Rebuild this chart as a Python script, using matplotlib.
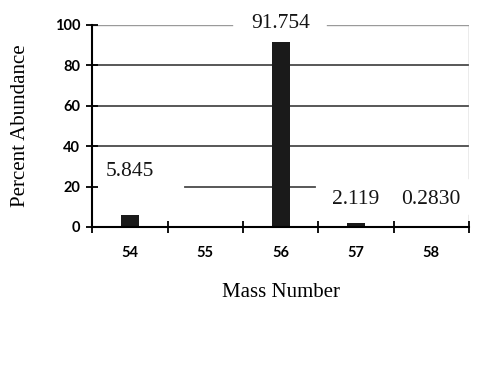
import matplotlib
matplotlib.use("Agg")
import matplotlib.pyplot as plt

mass = [54, 55, 56, 57, 58]
abundance = [5.845, 0.0, 91.754, 2.119, 0.283]
labels = {54: "5.845", 56: "91.754", 57: "2.119", 58: "0.2830"}
label_y = {54: 27.2, 56: 100.8, 57: 13.4, 58: 13.4}
yticks = [0, 20, 40, 60, 80, 100]

SERIF = ["Liberation Serif", "DejaVu Serif"]
TICKF = ["Lato", "DejaVu Sans"]

fig = plt.figure(figsize=(4.85, 3.66), dpi=100)
ax = fig.add_axes([0.19, 0.380, 0.777, 0.552])

# gridlines (partly hidden behind the data label boxes, as in the source)
for v in [40, 60, 80]:
    ax.axhline(v, color="#4a4a4a", lw=1.3, zorder=1)
ax.axhline(20, xmin=0.247, xmax=0.591, color="#4a4a4a", lw=1.3, zorder=1)
ax.axhline(100, xmin=0.0, xmax=0.371, color="#9a9a9a", lw=1.0, zorder=1)
ax.axhline(100, xmin=0.623, xmax=1.0, color="#9a9a9a", lw=1.0, zorder=1)
ax.axvline(58.5, ymin=0.0, ymax=0.06, color="#9a9a9a", lw=1.0, zorder=1)
ax.axvline(58.5, ymin=0.24, ymax=1.0, color="#9a9a9a", lw=1.0, zorder=1)

ax.bar(mass, abundance, width=0.24, color="#1a1a1a", zorder=3)

for m, t in labels.items():
    ax.text(m, label_y[m], t, ha="center", va="center", fontsize=15.5,
            family=SERIF, color="#151515")

ax.set_xlim(53.5, 58.5)
ax.set_ylim(0, 100)
ax.set_yticks(yticks)
ax.set_yticklabels([str(v) for v in yticks], family=TICKF, fontweight="bold", fontsize=10.5)
ax.set_xticks(mass)
ax.set_xticklabels([str(m) for m in mass], family=TICKF, fontweight="bold", fontsize=10.5)
ax.set_xticks([53.5, 54.5, 55.5, 56.5, 57.5, 58.5], minor=True)
ax.tick_params(axis="x", which="major", length=0, pad=14)
ax.tick_params(axis="x", which="minor", direction="inout", length=9, width=1.3)
ax.tick_params(axis="y", direction="inout", length=9, width=1.3, pad=4)

for s in ["top", "right"]:
    ax.spines[s].set_visible(False)
for s in ["left", "bottom"]:
    ax.spines[s].set_linewidth(1.5)
    ax.spines[s].set_zorder(4)

ax.set_xlabel("Mass Number", family=SERIF, fontsize=15, labelpad=16)
ax.set_ylabel("Percent Abundance", family=SERIF, fontsize=15, labelpad=18)

fig.savefig("out.png", dpi=100)
